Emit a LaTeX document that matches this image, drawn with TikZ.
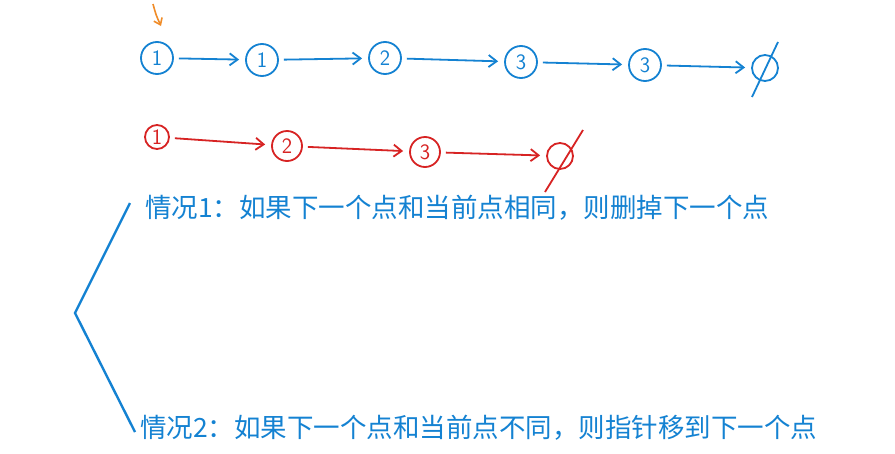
\documentclass[tikz,border=0pt]{standalone}
\usepackage{fontspec}
\usetikzlibrary{arrows.meta}
\newfontfamily\cjk{Noto Sans CJK SC}
\definecolor{bl}{RGB}{20,130,210}
\definecolor{rd}{RGB}{215,35,35}
\definecolor{og}{RGB}{240,140,40}
\begin{document}
\begin{tikzpicture}[x=1pt,y=-1pt,
 bn/.style={circle,draw=bl,text=bl,line width=1.8pt,inner sep=0pt,minimum size=32pt,font=\sffamily\fontsize{22}{22}\selectfont},
 rn/.style={circle,draw=rd,text=rd,line width=1.8pt,inner sep=0pt,minimum size=30pt,font=\sffamily\fontsize{22}{22}\selectfont},
 ba/.style={-{Straight Barb[length=8pt,width=12pt]},draw=bl,line width=1.8pt,shorten <=5pt,shorten >=6pt},
 ra/.style={-{Straight Barb[length=8pt,width=12pt]},draw=rd,line width=1.8pt,shorten <=5pt,shorten >=6pt},
 txt/.style={text=bl,anchor=west,font=\cjk\fontsize{26.5}{26.5}\selectfont,inner sep=0pt}]
\useasboundingbox[fill=white](0,0) rectangle (895,453);
\draw[-{Straight Barb[length=6pt,width=9pt]},og,line width=1.6pt] (153,4) .. controls (156,15) .. (161,26);
\node[bn] (b1) at (157,58) {1};
\node[bn] (b2) at (262,60) {1};
\node[bn] (b3) at (385,58) {2};
\node[bn] (b4) at (521,62) {3};
\node[bn] (b5) at (645,65) {3};
\node[bn,minimum size=26pt] (b6) at (765,68) {};
\draw[bl,line width=1.8pt] (752,97) -- (778,42);
\draw[ba] (b1) -- (b2);
\draw[ba] (b2) -- (b3);
\draw[ba] (b3) -- (b4);
\draw[ba] (b4) -- (b5);
\draw[ba] (b5) -- (b6);
\node[rn,minimum size=24pt] (r1) at (157,137) {1};
\node[rn] (r2) at (287,146) {2};
\node[rn] (r3) at (425,152) {3};
\node[rn,minimum size=26pt] (r4) at (560,156) {};
\draw[rd,line width=1.8pt] (545,192) -- (583,130);
\draw[ra] (r1) -- (r2);
\draw[ra] (r2) -- (r3);
\draw[ra] (r3) -- (r4);
\node[txt] (t1) at (145,208) {情况1：如果下一个点和当前点相同，则删掉下一个点};
\node[txt] (t2) at (140,428) {情况2：如果下一个点和当前点不同，则指针移到下一个点};
\coordinate (m) at (75,313);
\draw[bl,line width=2.4pt] (130,203) -- (m) -- (135,432);
\end{tikzpicture}
\end{document}
